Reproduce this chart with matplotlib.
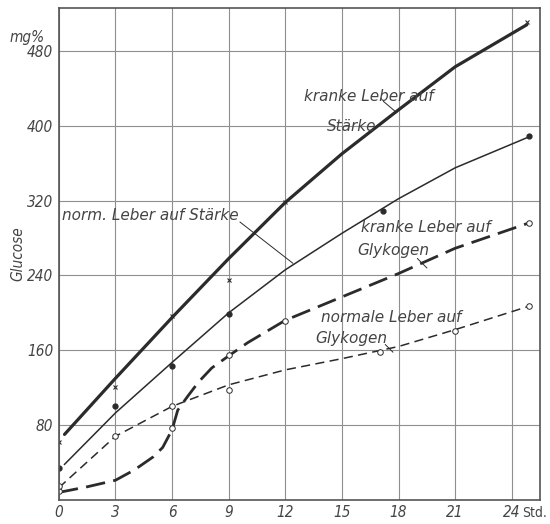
import matplotlib.pyplot as plt
import numpy as np

# kranke Leber auf Staerke (thick solid, x markers)
ks_x = [0.3, 3, 6, 9, 12, 15, 18, 21, 24.8]
ks_y = [70, 130, 195, 258, 318, 370, 417, 463, 508]
ks_px = [0, 3, 6, 9, 12, 24.8]
ks_py = [62, 121, 197, 235, 318, 511]

# normale Leber auf Staerke (thin solid, dots)
ns_x = [0.3, 3, 6, 9, 12, 15, 18, 21, 24.9]
ns_y = [38, 93, 147, 200, 246, 285, 322, 355, 388]
ns_px = [0, 3, 6, 9, 17.2, 24.9]
ns_py = [34, 100, 143, 199, 309, 389]

# kranke Leber auf Glykogen (thick dashed, open circles)
kg_x = [0, 1.5, 3, 4, 5, 5.5, 6, 6.3, 6.8, 7.4, 8.1, 9, 10, 12, 15, 18, 21, 24.9]
kg_y = [8, 14, 21, 32, 46, 56, 75, 96, 110, 126, 141, 154, 168, 192, 217, 242, 269, 296]
kg_px = [0, 6, 9, 12, 24.9]
kg_py = [10, 77, 155, 191, 296]

# normale Leber auf Glykogen (thin dashed, open circles)
ng_x = [0, 3, 6, 9, 12, 15, 18, 21, 24.9]
ng_y = [13, 68, 100, 123, 139, 151, 164, 182, 207]
ng_px = [0, 3, 6, 9, 17, 21, 24.9]
ng_py = [15, 68, 100, 117, 158, 181, 207]

xticks = [0, 3, 6, 9, 12, 15, 18, 21, 24]
yticks = [80, 160, 240, 320, 400, 480]

ink = '#2b2b2b'
fnt = dict(family='DejaVu Sans', style='italic', color='#444444')

fig = plt.figure(figsize=(5.5, 5.24), dpi=100)
ax = fig.add_axes([0.107, 0.046, 0.875, 0.939])

ax.plot(ks_x, ks_y, color=ink, lw=2.3, solid_capstyle='round')
ax.plot(ks_px, ks_py, 'x', color=ink, ms=3, mew=0.8)

ax.plot(ns_x, ns_y, color=ink, lw=1.1)
ax.plot(ns_px, ns_py, 'o', color=ink, ms=3.5)

ax.plot(kg_x, kg_y, color=ink, lw=2.0, dashes=(7, 3))
ax.plot(kg_px, kg_py, 'o', mfc='white', mec=ink, ms=4, mew=0.7)

ax.plot(ng_x, ng_y, color=ink, lw=1.1, dashes=(6, 3.5))
ax.plot(ng_px, ng_py, 'o', mfc='white', mec=ink, ms=4, mew=0.7)

ax.set_xlim(0, 25.5)
ax.set_ylim(0, 526)
ax.set_xticks(xticks)
ax.set_yticks(yticks)
ax.set_xticklabels([str(t) for t in xticks], stretch='condensed', fontsize=11, **fnt)
ax.set_yticklabels([str(t) for t in yticks], stretch='condensed', fontsize=11, **fnt)
ax.tick_params(length=0, pad=4)
ax.grid(True, color='#8f8f8f', lw=0.8)
for s in ax.spines.values():
    s.set_color('#555555')
    s.set_linewidth(1.2)

ax.text(-0.03, 0.925, 'mg%', transform=ax.transAxes, ha='right', va='bottom', fontsize=11,
        stretch='condensed', **fnt)
ax.text(0.962, -0.012, 'Std.', transform=ax.transAxes, ha='left', va='top', fontsize=10,
        family='DejaVu Sans', stretch='condensed', color='#444444')
ax.text(-0.085, 0.5, 'Glucose', transform=ax.transAxes, rotation=90, ha='center', va='center',
        fontsize=11, stretch='condensed', **fnt)

# curve labels with leader lines
lab = dict(fontsize=11, **fnt)
ax.text(13.0, 431, 'kranke Leber auf', va='center', **lab)
ax.text(14.2, 399, 'Stärke', va='center', **lab)
ax.plot([17.2, 17.9], [426, 414], color=ink, lw=0.7)

ax.text(0.15, 304, 'norm. Leber auf Stärke', va='center', **lab)
ax.plot([9.6, 12.4], [297, 253], color=ink, lw=0.7)

ax.text(16.0, 291, 'kranke Leber auf', va='center', **lab)
ax.text(15.8, 267, 'Glykogen', va='center', **lab)
ax.plot([19.0, 19.5], [258, 248], color=ink, lw=0.7)

ax.text(13.9, 195, 'normale Leber auf', va='center', **lab)
ax.text(13.6, 173, 'Glykogen', va='center', **lab)
ax.plot([17.3, 17.7], [166, 158], color=ink, lw=0.7)

fig.savefig('out.png', dpi=100)
